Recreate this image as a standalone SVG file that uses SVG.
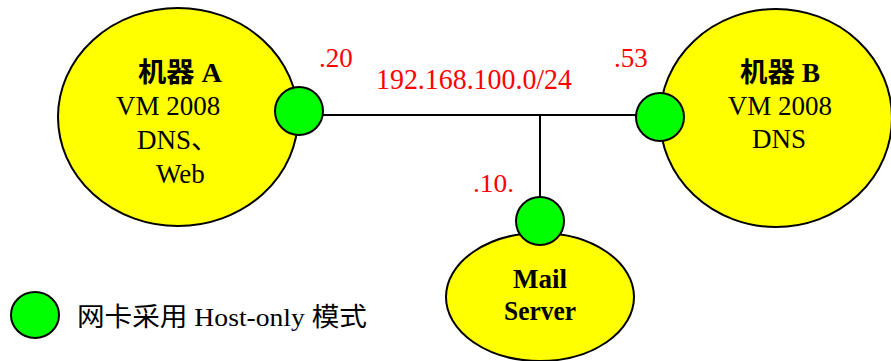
<svg xmlns="http://www.w3.org/2000/svg" width="891" height="361" viewBox="0 0 891 361">
<style>
.host{fill:#FFFF00;stroke:#000;stroke-width:2}
.nic{fill:#00FF00;stroke:#000;stroke-width:2}
.wire{stroke:#000;stroke-width:2;fill:none}
.t{font-family:"Liberation Serif","Noto Sans CJK SC",serif;fill:#000}
.b{font-weight:bold}
.ip{font-family:"Liberation Serif",serif;fill:#FF0000}
</style>
<rect width="891" height="361" fill="#fff"/>
<g id="connectors">
<line class="wire" x1="323" y1="115" x2="636" y2="115"/>
<line class="wire" x1="540" y1="115" x2="540" y2="197"/>
</g>
<g id="machineA">
<ellipse class="host" cx="178" cy="117" rx="120" ry="109"/>
<circle class="nic" cx="299" cy="111" r="24"/>
<text class="t b" x="138" y="82" font-size="27" textLength="84" lengthAdjust="spacingAndGlyphs">机器 A</text>
<text class="t" x="116" y="115" font-size="27">VM 2008</text>
<text class="t" x="137" y="149" font-size="27">DNS、</text>
<text class="t" x="156" y="183" font-size="27">Web</text>
</g>
<g id="machineB">
<ellipse class="host" cx="776" cy="118" rx="116" ry="109"/>
<circle class="nic" cx="660" cy="117" r="24"/>
<text class="t b" x="740" y="82" font-size="27" textLength="80" lengthAdjust="spacingAndGlyphs">机器 B</text>
<text class="t" x="780" y="115" font-size="27" text-anchor="middle">VM 2008</text>
<text class="t" x="779" y="148" font-size="27" text-anchor="middle">DNS</text>
</g>
<g id="mailServer">
<ellipse class="host" cx="540" cy="297" rx="94" ry="64"/>
<circle class="nic" cx="540" cy="221" r="24"/>
<text class="t b" x="540" y="288" font-size="27" text-anchor="middle" textLength="54" lengthAdjust="spacingAndGlyphs">Mail</text>
<text class="t b" x="540" y="320" font-size="27" text-anchor="middle" textLength="72" lengthAdjust="spacingAndGlyphs">Server</text>
</g>
<g id="labels">
<text class="ip" x="319" y="67" font-size="27">.20</text>
<text class="ip" x="614" y="67" font-size="27">.53</text>
<text class="ip" x="473" y="192" font-size="26" textLength="41" lengthAdjust="spacingAndGlyphs">.10.</text>
<text class="ip" x="376" y="89" font-size="29" textLength="196" lengthAdjust="spacingAndGlyphs">192.168.100.0/24</text>
</g>
<g id="legend">
<ellipse class="nic" cx="35" cy="315" rx="24" ry="23"/>
<text class="t" x="77" y="326" font-size="26" textLength="290" lengthAdjust="spacingAndGlyphs">网卡采用 Host-only 模式</text>
</g>
</svg>
